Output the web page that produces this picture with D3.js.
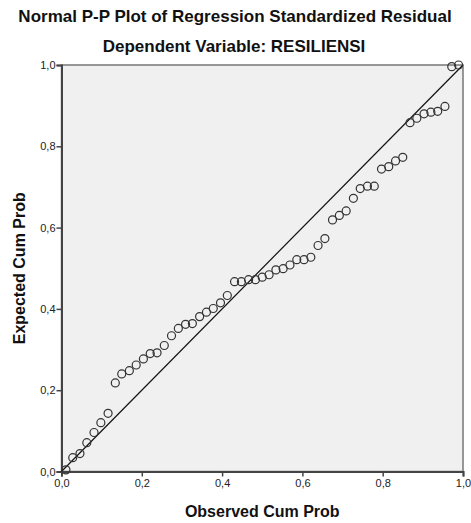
<!DOCTYPE html>
<html>
<head>
<meta charset="utf-8">
<script src="https://cdn.jsdelivr.net/npm/d3@7"></script>
<style>
  body { margin: 0; background: #fff; }
  text { font-family: "Liberation Sans", Arial, sans-serif; }
</style>
</head>
<body>
<svg id="pp" width="471" height="523"></svg>
<script>
// observed cum prob (x) and expected cum prob (y)
let observed = [0.011, 0.028, 0.046, 0.063, 0.081, 0.098, 0.116, 0.134,
    0.150, 0.169, 0.186, 0.204, 0.221, 0.238, 0.256, 0.274, 0.291, 0.309,
    0.326, 0.344, 0.361, 0.378, 0.396, 0.413, 0.431, 0.448, 0.466, 0.483,
    0.500, 0.517, 0.534, 0.552, 0.569, 0.586, 0.604, 0.621, 0.639, 0.656,
    0.675, 0.692, 0.709, 0.727, 0.744, 0.762, 0.779,
    0.797, 0.815, 0.832, 0.850, 0.868, 0.885, 0.903, 0.920, 0.937, 0.955,
    0.972, 0.989]
let expected = [0.004, 0.034, 0.044, 0.071, 0.096, 0.120, 0.143, 0.218,
    0.240, 0.248, 0.262, 0.277, 0.290, 0.292, 0.310, 0.334, 0.352, 0.362,
    0.364, 0.381, 0.392, 0.401, 0.415, 0.433, 0.467, 0.467, 0.472, 0.472,
    0.478, 0.484, 0.496, 0.499, 0.508, 0.521, 0.521, 0.527, 0.556, 0.573,
    0.619, 0.630, 0.641, 0.672, 0.696, 0.702, 0.702,
    0.744, 0.750, 0.764, 0.773, 0.858, 0.869, 0.880, 0.884, 0.886, 0.898,
    0.996, 1.000]
let tickValues = [0, 0.2, 0.4, 0.6, 0.8, 1.0]
let tickLabels = ["0,0", "0,2", "0,4", "0,6", "0,8", "1,0"]

let svg = d3.select("#pp")
let plotLeft = 61.5, plotRight = 463, plotTop = 65, plotBottom = 471.5

let x = d3.scaleLinear().domain([0, 1]).range([plotLeft, plotRight])
let y = d3.scaleLinear().domain([0, 1]).range([plotBottom, plotTop])

// title
svg.append("text")
    .attr("x", 235).attr("y", 22)
    .attr("text-anchor", "middle")
    .style("font-size", "17px").style("font-weight", "bold").style("fill", "#111")
    .text("Normal P-P Plot of Regression Standardized Residual")
svg.append("text")
    .attr("x", 234).attr("y", 52)
    .attr("text-anchor", "middle")
    .style("font-size", "17px").style("font-weight", "bold").style("fill", "#111")
    .text("Dependent Variable: RESILIENSI")

// plot area
svg.append("rect")
    .attr("x", plotLeft).attr("y", plotTop)
    .attr("width", plotRight - plotLeft).attr("height", plotBottom - plotTop)
    .style("fill", "#f0f0f0")
    .style("stroke", "#777").style("stroke-width", 1.5)

let xAxis = d3.axisBottom(x).tickValues(tickValues)
    .tickFormat((d, i) => tickLabels[i]).tickSizeOuter(0).tickSize(5)
let yAxis = d3.axisLeft(y).tickValues(tickValues)
    .tickFormat((d, i) => tickLabels[i]).tickSizeOuter(0).tickSize(5)

let gx = svg.append("g").attr("transform", "translate(0," + plotBottom + ")").call(xAxis)
let gy = svg.append("g").attr("transform", "translate(" + plotLeft + ",0)").call(yAxis)

;[gx, gy].forEach(function (g) {
    g.select(".domain").style("stroke", "#444").style("stroke-width", 2)
    g.selectAll(".tick line").style("stroke", "#444").style("stroke-width", 1.5)
    g.selectAll(".tick text")
        .style("font-family", "'Liberation Sans', Arial, sans-serif")
        .style("font-size", "11px").style("fill", "#222")
})
gx.selectAll(".tick text").attr("dy", "0.95em").attr("y", 5)
gy.selectAll(".tick text").attr("x", -6)

// diagonal reference line
svg.append("line")
    .attr("x1", x(0)).attr("y1", y(0))
    .attr("x2", x(1)).attr("y2", y(1))
    .style("stroke", "#111").style("stroke-width", 1.2)

// points
svg.append("g")
    .selectAll("circle")
    .data(observed)
    .join("circle")
    .attr("cx", d => x(d))
    .attr("cy", (d, i) => y(expected[i]))
    .attr("r", 4)
    .style("fill", "none")
    .style("stroke", "#333")
    .style("stroke-width", 1.2)

// axis titles
svg.append("text")
    .attr("x", (plotLeft + plotRight) / 2).attr("y", 517)
    .attr("text-anchor", "middle")
    .style("font-size", "16px").style("font-weight", "bold").style("fill", "#111")
    .text("Observed Cum Prob")
svg.append("text")
    .attr("transform", "translate(25," + (plotTop + plotBottom) / 2 + ") rotate(-90)")
    .attr("text-anchor", "middle")
    .style("font-size", "16px").style("font-weight", "bold").style("fill", "#111")
    .text("Expected Cum Prob")
</script>
</body>
</html>
